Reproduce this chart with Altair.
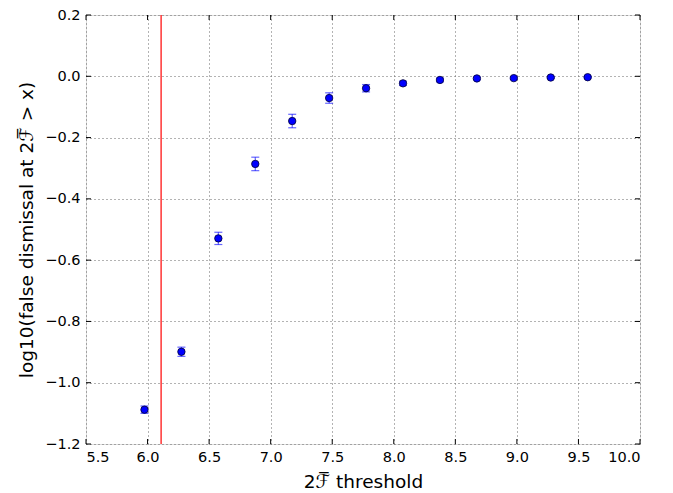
import altair as alt
import pandas as pd

thresholds = [5.975, 6.275, 6.575, 6.875, 7.175, 7.475, 7.775, 8.075, 8.375, 8.675, 8.975, 9.275, 9.575]
log_fd = [-1.088, -0.899, -0.529, -0.286, -0.146, -0.071, -0.039, -0.023, -0.012, -0.007, -0.006, -0.004, -0.003]
errors = [0.012, 0.015, 0.020, 0.022, 0.022, 0.017, 0.012, 0.007, 0.006, 0.004, 0.004, 0.003, 0.003]
cut_threshold = [6.11]
x_ticks = [5.5, 6.0, 6.5, 7.0, 7.5, 8.0, 8.5, 9.0, 9.5, 10.0]
y_ticks = [-1.2, -1.0, -0.8, -0.6, -0.4, -0.2, 0.0, 0.2]

W, H = 554, 429
FONT = "DejaVu Sans"
MINUS = "replace(datum.label, '-', '\u2212')"

df = pd.DataFrame({"x": thresholds, "y": log_fd, "err": errors})
df["lo"] = df["y"] - df["err"]
df["hi"] = df["y"] + df["err"]

xs = alt.Scale(domain=[5.5, 10.0], nice=False, zero=False)
ys = alt.Scale(domain=[-1.2, 0.2], nice=False, zero=False)

common = dict(grid=True, gridDash=[1, 3], gridColor="#666", gridWidth=1,
              tickSize=0, labelPadding=6, domain=False, labelExpr=MINUS,
              labelFontSize=14.5, titleFontSize=18.5, titleFontWeight="normal",
              labelFont=FONT, titleFont=FONT, labelColor="#000", titleColor="#000")
x_axis = alt.Axis(values=x_ticks, format=".1f", title="2ℱ\u0305 threshold", titlePadding=9, **common)
y_axis = alt.Axis(values=y_ticks, format=".1f", title="log10(false dismissal at 2ℱ\u0305 > x)",
                  titlePadding=8, **common)

base = alt.Chart(df)

bars = base.mark_rule(color="#0000ff", opacity=0.6, strokeWidth=1.2).encode(
    x=alt.X("x:Q", scale=xs, axis=x_axis),
    y=alt.Y("lo:Q", scale=ys, axis=y_axis),
    y2="hi:Q",
)
caps_lo = base.mark_tick(color="#0000ff", opacity=0.6, orient="horizontal", size=8, thickness=1.2).encode(
    x=alt.X("x:Q", scale=xs), y=alt.Y("lo:Q", scale=ys))
caps_hi = base.mark_tick(color="#0000ff", opacity=0.6, orient="horizontal", size=8, thickness=1.2).encode(
    x=alt.X("x:Q", scale=xs), y=alt.Y("hi:Q", scale=ys))
pts = base.mark_point(filled=True, color="#0000ff", size=55, opacity=1,
                      stroke="#000033", strokeWidth=0.8).encode(
    x=alt.X("x:Q", scale=xs), y=alt.Y("y:Q", scale=ys))

vline = alt.Chart(pd.DataFrame({"x": cut_threshold})).mark_rule(color="#ff0000", strokeWidth=1.2).encode(
    x=alt.X("x:Q", scale=xs))

xt = alt.Chart(pd.DataFrame({"x": x_ticks}))
yt = alt.Chart(pd.DataFrame({"y": y_ticks}))
tick_bottom = xt.mark_rule(color="#000").encode(x=alt.X("x:Q", scale=xs), y=alt.value(H), y2=alt.value(H - 5))
tick_top = xt.mark_rule(color="#000").encode(x=alt.X("x:Q", scale=xs), y=alt.value(0), y2=alt.value(5))
tick_left = yt.mark_rule(color="#000").encode(y=alt.Y("y:Q", scale=ys), x=alt.value(0), x2=alt.value(5))
tick_right = yt.mark_rule(color="#000").encode(y=alt.Y("y:Q", scale=ys), x=alt.value(W - 5), x2=alt.value(W))

chart = alt.layer(bars, caps_lo, caps_hi, pts, vline, tick_bottom, tick_top, tick_left, tick_right).properties(
    width=W, height=H,
    autosize=alt.AutoSizeParams(type="none"),
    padding={"left": 78, "top": 7, "right": 20, "bottom": 50},
).configure_view(stroke="#222", strokeWidth=1.5).configure(background="white")

chart.save("out.html", embed_options={"renderer": "svg", "actions": False})
